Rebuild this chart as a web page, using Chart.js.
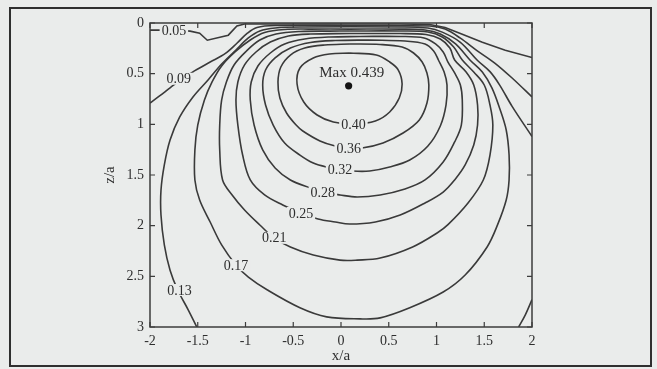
<!DOCTYPE html>
<html>
<head>
<meta charset="utf-8">
<script src="https://cdn.jsdelivr.net/npm/chart.js@4.4.0/dist/chart.umd.min.js"></script>
<style>
  html, body { margin: 0; padding: 0; background: #eaeceb; }
  canvas { display: block; }
</style>
</head>
<body>
<canvas id="c" width="657" height="369"></canvas>
<script>
// Iso-lines of the field, points are [x/a, z/a]
const iso005 = [[-2.00,0.07],[-1.74,0.07],[-1.58,0.08],[-1.48,0.10],[-1.40,0.17],[-1.18,0.12],[-1.09,0.03],[-1.01,0.01],[-0.43,0.01],[0.62,0.01],[0.93,0.015],[1.09,0.044],[1.27,0.11],[1.48,0.19],[1.72,0.27],[2.00,0.34]];
const iso009 = [[-2.00,0.79],[-1.90,0.72],[-1.79,0.64],[-1.65,0.54],[-1.53,0.47],[-1.37,0.385],[-1.21,0.30],[-1.09,0.20],[-0.98,0.10],[-0.88,0.044],[-0.69,0.025],[0.09,0.025],[0.93,0.03],[1.09,0.06],[1.25,0.15],[1.42,0.27],[1.61,0.395],[1.80,0.55],[2.00,0.73]];
const iso013 = [[-1.51,3.00],[-1.60,2.83],[-1.71,2.635],[-1.79,2.44],[-1.85,2.19],[-1.885,1.895],[-1.885,1.65],[-1.85,1.40],[-1.79,1.155],[-1.69,0.93],[-1.55,0.73],[-1.39,0.56],[-1.25,0.405],[-1.10,0.266],[-0.97,0.148],[-0.85,0.079],[-0.69,0.049],[-0.43,0.039],[0.62,0.039],[0.91,0.05],[1.06,0.09],[1.25,0.19],[1.43,0.37],[1.56,0.48],[1.66,0.61],[1.79,0.82],[2.00,1.12]];
const iso013b = [[1.86,3.00],[1.93,2.88],[2.00,2.73]];
const iso017 = [[0.09,0.06],[-0.32,0.06],[-0.59,0.064],[-0.80,0.094],[-0.95,0.168],[-1.11,0.286],[-1.25,0.424],[-1.35,0.582],[-1.43,0.76],[-1.50,1.007],[-1.53,1.253],[-1.53,1.549],[-1.48,1.747],[-1.37,1.964],[-1.25,2.19],[-1.10,2.388],[-0.97,2.507],[-0.77,2.635],[-0.43,2.81],[-0.15,2.90],[0.20,2.92],[0.41,2.91],[0.72,2.81],[1.07,2.655],[1.30,2.487],[1.53,2.21],[1.64,1.99],[1.73,1.747],[1.76,1.549],[1.76,1.303],[1.73,1.056],[1.66,0.839],[1.58,0.641],[1.48,0.484],[1.35,0.365],[1.20,0.207],[1.04,0.109],[0.88,0.069],[0.62,0.06],[0.09,0.06]];
const iso021 = [[0.09,0.079],[-0.12,0.08],[-0.43,0.084],[-0.68,0.109],[-0.85,0.168],[-0.99,0.276],[-1.12,0.414],[-1.20,0.582],[-1.25,0.76],[-1.27,1.007],[-1.27,1.253],[-1.24,1.549],[-1.14,1.697],[-1.01,1.845],[-0.85,1.993],[-0.70,2.122],[-0.53,2.21],[-0.29,2.29],[-0.01,2.34],[0.17,2.34],[0.41,2.32],[0.75,2.21],[1.01,2.07],[1.12,1.99],[1.33,1.776],[1.49,1.549],[1.56,1.303],[1.59,1.007],[1.56,0.809],[1.50,0.612],[1.39,0.484],[1.27,0.365],[1.18,0.237],[1.06,0.138],[0.91,0.089],[0.62,0.079],[0.09,0.079]];
const iso025 = [[0.09,0.104],[-0.32,0.109],[-0.55,0.128],[-0.74,0.188],[-0.89,0.286],[-1.01,0.414],[-1.08,0.582],[-1.10,0.76],[-1.08,1.007],[-1.03,1.303],[-0.95,1.549],[-0.80,1.697],[-0.61,1.796],[-0.42,1.875],[-0.24,1.934],[-0.06,1.964],[0.09,1.984],[0.36,1.964],[0.62,1.895],[0.88,1.776],[1.07,1.668],[1.19,1.549],[1.30,1.401],[1.39,1.204],[1.43,1.007],[1.43,0.809],[1.39,0.612],[1.31,0.484],[1.19,0.365],[1.14,0.247],[1.04,0.158],[0.89,0.114],[0.62,0.104],[0.09,0.104]];
const iso028 = [[0.20,0.133],[-0.12,0.138],[-0.38,0.158],[-0.59,0.207],[-0.74,0.296],[-0.87,0.424],[-0.94,0.582],[-0.95,0.76],[-0.91,1.007],[-0.82,1.253],[-0.69,1.431],[-0.53,1.549],[-0.32,1.628],[-0.19,1.668],[-0.01,1.697],[0.17,1.717],[0.41,1.697],[0.67,1.638],[0.88,1.549],[1.07,1.372],[1.19,1.174],[1.26,1.007],[1.27,0.76],[1.25,0.612],[1.19,0.493],[1.12,0.385],[1.07,0.286],[0.99,0.207],[0.87,0.148],[0.62,0.133],[0.20,0.133]];
const iso032 = [[0.30,0.168],[-0.06,0.173],[-0.32,0.192],[-0.53,0.247],[-0.69,0.345],[-0.79,0.464],[-0.82,0.612],[-0.79,0.809],[-0.71,1.007],[-0.59,1.184],[-0.43,1.303],[-0.29,1.382],[-0.15,1.421],[-0.01,1.441],[0.12,1.461],[0.30,1.461],[0.51,1.421],[0.72,1.352],[0.91,1.214],[1.04,1.016],[1.10,0.809],[1.11,0.612],[1.08,0.484],[1.02,0.365],[0.97,0.276],[0.88,0.207],[0.67,0.178],[0.30,0.168]];
const iso036 = [[0.09,0.207],[-0.17,0.217],[-0.38,0.247],[-0.53,0.316],[-0.63,0.434],[-0.66,0.582],[-0.64,0.74],[-0.57,0.888],[-0.47,1.007],[-0.40,1.066],[-0.22,1.164],[-0.06,1.214],[0.08,1.234],[0.22,1.234],[0.44,1.184],[0.65,1.086],[0.82,0.957],[0.90,0.79],[0.92,0.612],[0.90,0.493],[0.85,0.385],[0.76,0.296],[0.64,0.237],[0.41,0.212],[0.09,0.207]];
const iso040 = [[0.09,0.296],[0.37,0.316],[0.51,0.385],[0.60,0.464],[0.64,0.602],[0.61,0.74],[0.51,0.878],[0.36,0.967],[0.13,0.997],[-0.08,0.977],[-0.25,0.908],[-0.39,0.78],[-0.46,0.602],[-0.43,0.444],[-0.29,0.345],[-0.12,0.306],[0.09,0.296]];

// Level names and where each level's value is written on its line
const levels     = ['0.05', '0.09', '0.13', '0.13', '0.17', '0.21', '0.25', '0.28', '0.32', '0.36', '0.40'];
const levelLines = [iso005, iso009, iso013, iso013b, iso017, iso021, iso025, iso028, iso032, iso036, iso040];
const levelTags  = [['0.05',-1.75,0.075],['0.09',-1.70,0.55],['0.13',-1.69,2.635],['0.17',-1.10,2.39],['0.21',-0.70,2.12],['0.25',-0.42,1.875],['0.28',-0.19,1.67],['0.32',-0.01,1.44],['0.36',0.08,1.234],['0.40',0.13,0.997]];

// Peak of the field
const maxPoint = [0.08, 0.62];
const maxValue = 0.439;

// Axis ticks
const xTicks = [-2, -1.5, -1, -0.5, 0, 0.5, 1, 1.5, 2];
const zTicks = [0, 0.5, 1, 1.5, 2, 2.5, 3];

const BG = '#eaeceb';
const INK = '#3a3a3a';
const TEXT = '#2e2e2e';
const SERIF = '"Liberation Serif", "DejaVu Serif", serif';

const datasets = levelLines.map((pts, i) => ({
  label: levels[i],
  data: pts.map(([x, z]) => ({ x, y: z })),
  showLine: true,
  pointRadius: 0,
  borderColor: INK,
  borderWidth: 1.6,
  tension: levels[i] === '0.05' ? 0 : 0.35,
  fill: false
}));
datasets.push({
  label: 'max',
  data: [{ x: maxPoint[0], y: maxPoint[1] }],
  pointRadius: 3.6,
  pointBackgroundColor: '#141414',
  pointBorderWidth: 0,
  showLine: false
});

const decor = {
  id: 'decor',
  beforeDraw(chart) {
    const { ctx, width, height } = chart;
    ctx.save();
    ctx.fillStyle = BG;
    ctx.fillRect(0, 0, width, height);
    ctx.restore();
  },
  afterDatasetsDraw(chart) {
    const { ctx, chartArea: a, scales } = chart;
    const sx = scales.x, sy = scales.y;
    ctx.save();

    // level values written on the lines
    ctx.font = '14px ' + SERIF;
    ctx.textAlign = 'center';
    ctx.textBaseline = 'middle';
    levelTags.forEach(([txt, lx, lz]) => {
      const px = sx.getPixelForValue(lx), py = sy.getPixelForValue(lz);
      const w = ctx.measureText(txt).width + 4;
      ctx.fillStyle = BG;
      ctx.fillRect(px - w / 2, py - 6, w, 12);
      ctx.fillStyle = TEXT;
      ctx.fillText(txt, px, py + 1);
    });

    // peak annotation
    const mx = sx.getPixelForValue(maxPoint[0]), my = sy.getPixelForValue(maxPoint[1]);
    ctx.font = '15px ' + SERIF;
    ctx.fillStyle = TEXT;
    ctx.fillText('Max ' + maxValue, mx + 3, my - 13);

    // plot frame
    ctx.strokeStyle = '#3c3c3c';
    ctx.lineWidth = 1.5;
    ctx.strokeRect(a.left, a.top, a.right - a.left, a.bottom - a.top);

    // inward ticks on all four sides
    ctx.lineWidth = 1.2;
    ctx.beginPath();
    xTicks.forEach(v => {
      const p = sx.getPixelForValue(v);
      ctx.moveTo(p, a.bottom); ctx.lineTo(p, a.bottom - 5);
      ctx.moveTo(p, a.top); ctx.lineTo(p, a.top + 5);
    });
    zTicks.forEach(v => {
      const p = sy.getPixelForValue(v);
      ctx.moveTo(a.left, p); ctx.lineTo(a.left + 5, p);
      ctx.moveTo(a.right, p); ctx.lineTo(a.right - 5, p);
    });
    ctx.stroke();

    // axis titles
    ctx.font = '15px ' + SERIF;
    ctx.fillStyle = TEXT;
    ctx.textAlign = 'center';
    ctx.textBaseline = 'middle';
    ctx.fillText('x/a', (a.left + a.right) / 2, 356);
    ctx.save();
    ctx.translate(110, (a.top + a.bottom) / 2);
    ctx.rotate(-Math.PI / 2);
    ctx.fillText('z/a', 0, 0);
    ctx.restore();

    // outer border
    ctx.strokeStyle = '#2f2f2f';
    ctx.lineWidth = 2;
    ctx.strokeRect(10, 8, 641, 358);
    ctx.restore();
  }
};

const plainNumber = v => String(Number(v));

new Chart(document.getElementById('c'), {
  type: 'scatter',
  data: { datasets },
  plugins: [decor],
  options: {
    responsive: false,
    animation: false,
    events: [],
    layout: { padding: { left: 0, right: 125, top: 23, bottom: 0 } },
    plugins: { legend: { display: false }, tooltip: { enabled: false } },
    scales: {
      x: {
        type: 'linear', min: -2, max: 2,
        afterBuildTicks(s) { s.ticks = xTicks.map(v => ({ value: v })); },
        afterFit(s) { s.height = 42; },
        grid: { display: false, drawTicks: false },
        border: { display: false },
        ticks: { padding: 6, color: TEXT, font: { family: SERIF, size: 14 }, maxRotation: 0, autoSkip: false, callback: plainNumber }
      },
      y: {
        type: 'linear', min: 0, max: 3, reverse: true,
        afterBuildTicks(s) { s.ticks = zTicks.map(v => ({ value: v })); },
        afterFit(s) { s.width = 150; },
        grid: { display: false, drawTicks: false },
        border: { display: false },
        ticks: { padding: 6, color: TEXT, font: { family: SERIF, size: 14 }, autoSkip: false, callback: plainNumber }
      }
    }
  }
});
</script>
</body>
</html>
